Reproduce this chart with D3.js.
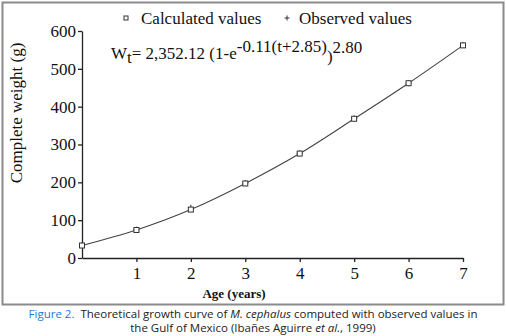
<!DOCTYPE html>
<html>
<head>
<meta charset="utf-8">
<script src="https://cdn.jsdelivr.net/npm/d3@7"></script>
<style>
  body { margin: 0; background: #fff; }
  svg text { font-family: "Liberation Serif", "Times New Roman", serif; }
  .caption { font-family: "Open Sans", "Noto Sans", sans-serif; font-size: 11.5px; fill: #222; }
</style>
</head>
<body>
<svg id="chart" width="506" height="336"></svg>
<script>
// data
const ages = [0, 1, 2, 3, 4, 5, 6, 7];
const calculated = [33, 74, 128, 197, 276, 368, 462, 562];
const observed = [34, 75, 133, 198, 277, 369, 462, 563];
const yTicks = [0, 100, 200, 300, 400, 500, 600];
const xTicks = [1, 2, 3, 4, 5, 6, 7];

const svg = d3.select('#chart');
const margin = {top: 31, left: 82};
const w = 381, h = 227;

// thin "+" marker
const plus = s => `M${-s},0H${s}M0,${-s}V${s}`;

// frame round the figure
svg.append('rect')
  .attr('x', 2.5).attr('y', 2.5)
  .attr('width', 501).attr('height', 302)
  .attr('fill', 'none')
  .attr('stroke', '#8a8a8a')
  .attr('stroke-width', 2);

const main = svg.append('g')
  .attr('transform', `translate(${margin.left}, ${margin.top})`);

const xScale = d3.scaleLinear().domain([0, 7]).range([0, w]);
const yScale = d3.scaleLinear().domain([0, 600]).range([h, 0]);

// axes
const yAxis = main.append('g').call(d3.axisLeft(yScale)
  .tickValues(yTicks)
  .tickSize(4)
  .tickPadding(2)
  .tickSizeOuter(0));
yAxis.selectAll('text')
  .attr('font-family', '"Liberation Serif", serif')
  .attr('font-size', 17)
  .attr('fill', '#111');

const xAxis = main.append('g')
  .attr('transform', `translate(0, ${h})`)
  .call(d3.axisBottom(xScale)
    .tickValues(xTicks)
    .tickFormat(d3.format('d'))
    .tickSize(4)
    .tickPadding(5)
    .tickSizeOuter(0));
xAxis.selectAll('text')
  .attr('font-family', '"Liberation Serif", serif')
  .attr('font-size', 17)
  .attr('fill', '#111');

main.selectAll('.domain, .tick line')
  .attr('stroke', '#222')
  .attr('stroke-width', 1.3);

// fitted curve
const line = d3.line()
  .x((d, i) => xScale(ages[i]))
  .y(d => yScale(d))
  .curve(d3.curveMonotoneX);

main.append('path')
  .datum(calculated)
  .attr('d', line)
  .attr('fill', 'none')
  .attr('stroke', '#444')
  .attr('stroke-width', 1.1);

// observed (+)
main.selectAll('.obs')
  .data(observed)
  .enter()
  .append('path')
  .attr('class', 'obs')
  .attr('d', plus(3))
  .attr('transform', (d, i) => `translate(${xScale(ages[i])}, ${yScale(d)})`)
  .attr('stroke', '#333')
  .attr('stroke-width', 1);

// calculated (squares)
main.selectAll('.calc')
  .data(calculated)
  .enter()
  .append('rect')
  .attr('class', 'calc')
  .attr('x', (d, i) => xScale(ages[i]) - 2.5)
  .attr('y', d => yScale(d) - 2.5)
  .attr('width', 5)
  .attr('height', 5)
  .attr('fill', '#fff')
  .attr('stroke', '#333')
  .attr('stroke-width', 1);

// axis titles
svg.append('text')
  .attr('transform', 'translate(22, 113) rotate(-90)')
  .attr('text-anchor', 'middle')
  .attr('font-size', 17)
  .attr('fill', '#111')
  .text('Complete weight (g)');

svg.append('text')
  .attr('x', 234).attr('y', 298)
  .attr('text-anchor', 'middle')
  .attr('font-size', 13)
  .attr('font-weight', 'bold')
  .attr('fill', '#111')
  .text('Age (years)');

// legend
svg.append('rect')
  .attr('x', 124).attr('y', 16)
  .attr('width', 4).attr('height', 4)
  .attr('fill', '#fff').attr('stroke', '#333');
svg.append('text')
  .attr('x', 141).attr('y', 24)
  .attr('font-size', 17).attr('fill', '#111')
  .text('Calculated values');
svg.append('path')
  .attr('d', plus(2.5))
  .attr('transform', 'translate(287, 18)')
  .attr('stroke', '#333')
  .attr('stroke-width', 1);
svg.append('text')
  .attr('x', 299).attr('y', 24)
  .attr('font-size', 17).attr('fill', '#111')
  .text('Observed values');

// equation
const eq = svg.append('text')
  .attr('x', 111).attr('y', 59)
  .attr('font-size', 17).attr('fill', '#111');
eq.append('tspan').text('W');
eq.append('tspan').attr('dy', 4).text('t');
eq.append('tspan').attr('dy', -4).text('= 2,352.12 (1-e');
eq.append('tspan').attr('dy', -7).text('-0.11(t+2.85)');
eq.append('tspan').attr('dy', 10).text(')');
eq.append('tspan').attr('dy', -9).text('2.80');

// caption
const cap = svg.append('text')
  .attr('class', 'caption')
  .attr('x', 253).attr('y', 318)
  .attr('text-anchor', 'middle');
cap.append('tspan').attr('fill', '#1f7ad6').text('Figure 2.');
cap.append('tspan').text('\u00a0 Theoretical growth curve of ');
cap.append('tspan').attr('font-style', 'italic').text('M. cephalus');
cap.append('tspan').text(' computed with observed values in');

const cap2 = svg.append('text')
  .attr('class', 'caption')
  .attr('x', 253).attr('y', 332)
  .attr('text-anchor', 'middle');
cap2.append('tspan').text('the Gulf of Mexico (Ibañes Aguirre ');
cap2.append('tspan').attr('font-style', 'italic').text('et al.');
cap2.append('tspan').text(', 1999)');
</script>
</body>
</html>
